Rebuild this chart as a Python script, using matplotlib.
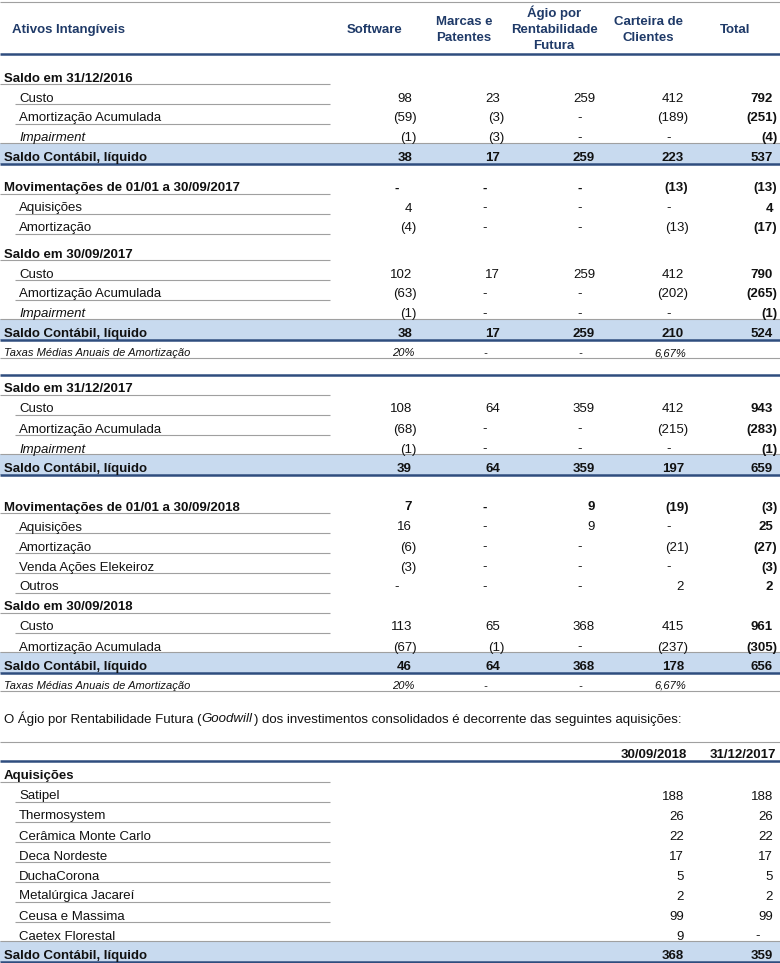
import matplotlib
matplotlib.use('Agg')
import matplotlib.pyplot as plt
from matplotlib.patches import Rectangle

# ---------------- data ----------------
header_title = "Ativos Intangíveis"
columns = ["Software", "Marcas e\nPatentes", "Ágio por\nRentabilidade\nFutura",
           "Carteira de\nClientes", "Total"]

sec1_title = "Saldo em 31/12/2016"
sec1_labels = ["Custo", "Amortização Acumulada", "Impairment"]
sec1_values = [[98, 23, 259, 412, 792],
               [-59, -3, None, -189, -251],
               [-1, -3, None, None, -4]]
sec1_net = [38, 17, 259, 223, 537]

mov1_title = "Movimentações de 01/01 a 30/09/2017"
mov1_total = [None, None, None, -13, -13]
mov1_labels = ["Aquisições", "Amortização"]
mov1_values = [[4, None, None, None, 4],
               [-4, None, None, -13, -17]]

sec2_title = "Saldo em 30/09/2017"
sec2_labels = ["Custo", "Amortização Acumulada", "Impairment"]
sec2_values = [[102, 17, 259, 412, 790],
               [-63, None, None, -202, -265],
               [-1, None, None, None, -1]]
sec2_net = [38, 17, 259, 210, 524]

rates_label = "Taxas Médias Anuais de Amortização"
rates = ["20%", "-", "-", "6,67%"]

sec3_title = "Saldo em 31/12/2017"
sec3_labels = ["Custo", "Amortização Acumulada", "Impairment"]
sec3_values = [[108, 64, 359, 412, 943],
               [-68, None, None, -215, -283],
               [-1, None, None, None, -1]]
sec3_net = [39, 64, 359, 197, 659]

mov2_title = "Movimentações de 01/01 a 30/09/2018"
mov2_total = [7, None, 9, -19, -3]
mov2_labels = ["Aquisições", "Amortização", "Venda Ações Elekeiroz", "Outros"]
mov2_values = [[16, None, 9, None, 25],
               [-6, None, None, -21, -27],
               [-3, None, None, None, -3],
               [None, None, None, 2, 2]]

sec4_title = "Saldo em 30/09/2018"
sec4_labels = ["Custo", "Amortização Acumulada"]
sec4_values = [[113, 65, 368, 415, 961],
               [-67, -1, None, -237, -305]]
sec4_net = [46, 64, 368, 178, 656]

net_label = "Saldo Contábil, líquido"

para_before = "O Ágio por Rentabilidade Futura ("
para_italic = "Goodwill"
para_after = ") dos investimentos consolidados é decorrente das seguintes aquisições:"

gw_columns = ["30/09/2018", "31/12/2017"]
gw_title = "Aquisições"
gw_names = ["Satipel", "Thermosystem", "Cerâmica Monte Carlo", "Deca Nordeste",
            "DuchaCorona", "Metalúrgica Jacareí", "Ceusa e Massima", "Caetex Florestal"]
gw_2018 = [188, 26, 22, 17, 5, 2, 99, 9]
gw_2017 = [188, 26, 22, 17, 5, 2, 99, None]
gw_total = [368, 359]

# ---------------- layout / style ----------------
FONT = 'Liberation Sans'
FS = 9.5
NAVY = '#1F3A68'
BLUE = '#2F4D7E'
GRAY = '#A0A0A0'
BAND = '#C8DAEF'
TXT = '#111111'
COL_R = [412, 500, 595, 684, 773]
COL_C = [375, 464, 554, 648, 735]
GW_R = [684, 773]

fig = plt.figure(figsize=(7.8, 9.63), dpi=100)
ax = fig.add_axes([0, 0, 1, 1])
ax.set_xlim(0, 780)
ax.set_ylim(963, 0)
ax.axis('off')


def t(x, y, s, ha='left', bold=False, italic=False, size=FS, color=TXT, off=5.5):
    return ax.text(x, y + off, s, ha=ha, va='baseline', fontsize=size, family=FONT,
                   fontweight='bold' if bold else 'normal',
                   fontstyle='italic' if italic else 'normal', color=color)


def hline(y, x0, x1, color, lw):
    ax.plot([x0, x1], [y, y], color=color, lw=lw, solid_capstyle='butt')


def val(v, R, y, bold=False):
    if v is None:
        t(R - 15, y, '-', ha='center', bold=bold)
    elif v < 0:
        t(R + 4.4, y, f'({-v})', ha='right', bold=bold)
    else:
        t(R, y, str(v), ha='right', bold=bold)


def title_row(y, label, vals=None, cols=COL_R):
    t(4, y, label, bold=True)
    if vals:
        for v, R in zip(vals, cols):
            val(v, R, y, bold=True)
    hline(y + 8, 0, 330, GRAY, 0.8)


def item_row(y, label, vals, cols=COL_R, underline=True, italic=False, bold_all=False,
             bold_last=True):
    t(19, y, label, italic=italic)
    for i, (v, R) in enumerate(zip(vals, cols)):
        val(v, R, y, bold=bold_all or (bold_last and i == len(vals) - 1))
    if underline:
        hline(y + 8, 15, 330, GRAY, 0.8)


def band_row(y, label, vals, cols=COL_R):
    ax.add_patch(Rectangle((0, y - 12), 780, 21, facecolor=BAND, edgecolor='none'))
    hline(y - 12, 0, 780, GRAY, 0.8)
    hline(y + 9, 0, 780, BLUE, 1.8)
    t(4, y, label, bold=True)
    for v, R in zip(vals, cols):
        val(v, R, y, bold=True)


def rates_row(y):
    t(4, y, rates_label, italic=True, size=8, off=4.5)
    for s, R in zip(rates, COL_R):
        if s == '-':
            t(R - 15, y, s, ha='center', italic=True, size=8, off=4.5)
        else:
            t(R + 2, y, s, ha='right', italic=True, size=8, off=4.5)
    hline(y + 7, 0, 780, GRAY, 0.8)


def block(y, title, labels, values, net, last_italic=True):
    title_row(y, title)
    for i, (lab, vals) in enumerate(zip(labels, values)):
        y += 20
        is_last = i == len(labels) - 1
        item_row(y, lab, vals, underline=not is_last,
                 italic=(lab == "Impairment"))
    y += 19.5
    band_row(y, net_label, net)
    return y


# ---------------- header ----------------
hline(2, 0, 780, GRAY, 0.8)
t(12, 28, header_title, bold=True, color=NAVY)
for name, cx in zip(columns, COL_C):
    lines = name.split('\n')
    n = len(lines)
    for k, line in enumerate(lines):
        base = 33 + (k - (n - 1) / 2) * 16
        t(cx, base - 5.5, line, ha='center', bold=True, color=NAVY)
hline(54, 0, 780, BLUE, 1.8)

# ---------------- first table ----------------
y = block(76, sec1_title, sec1_labels, sec1_values, sec1_net)

y += 30.5
title_row(y, mov1_title, mov1_total)
for i, (lab, vals) in enumerate(zip(mov1_labels, mov1_values)):
    y += 20
    item_row(y, lab, vals)
y += 26
y = block(y, sec2_title, sec2_labels, sec2_values, sec2_net)
y += 20
rates_row(y)

hline(375, 0, 780, BLUE, 1.8)

y = block(387, sec3_title, sec3_labels, sec3_values, sec3_net)

y += 38.5
title_row(y, mov2_title, mov2_total)
for i, (lab, vals) in enumerate(zip(mov2_labels, mov2_values)):
    y += 20
    item_row(y, lab, vals)
y += 20
y = block(y, sec4_title, sec4_labels, sec4_values, sec4_net)
y += 20
rates_row(y)

# ---------------- paragraph ----------------
renderer = fig.canvas.get_renderer()
py = 717
tx = t(4, py, para_before)
x = 4 + tx.get_window_extent(renderer).width
tx = t(x, py, para_italic, italic=True)
x += tx.get_window_extent(renderer).width + 2
t(x, py, para_after)

# ---------------- goodwill table ----------------
hline(742, 0, 780, GRAY, 0.8)
for name, R in zip(gw_columns, GW_R):
    t(R + 3, 752, name, ha='right', bold=True)
hline(761, 0, 780, BLUE, 1.8)

y = 774
title_row(y, gw_title)
for i, (name, a, b) in enumerate(zip(gw_names, gw_2018, gw_2017)):
    y += 20
    item_row(y, name, [a, b], cols=GW_R, underline=(i < len(gw_names) - 1),
             bold_last=False)
y += 19.5
band_row(y, net_label, gw_total, cols=GW_R)

fig.savefig('out.png', dpi=100)
